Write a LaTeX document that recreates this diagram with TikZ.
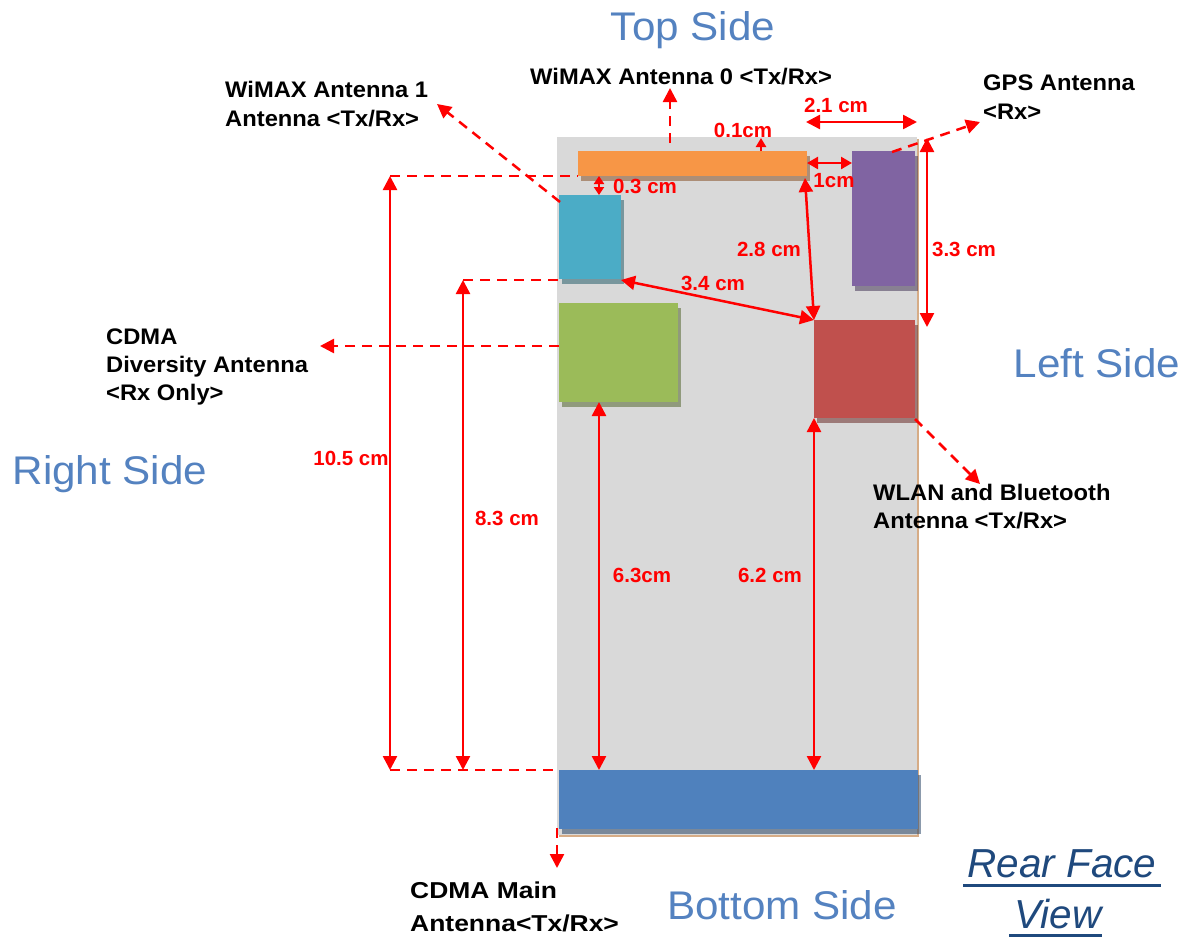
\documentclass[tikz,border=0pt]{standalone}
\usepackage{fontspec}
\setmainfont{Liberation Sans}
\newfontfamily\widefont{Liberation Sans}[FakeStretch=1.055]
\newfontfamily\widerfont{Liberation Sans}[FakeStretch=1.15]
\usetikzlibrary{arrows.meta,shadows}
\definecolor{board}{RGB}{217,217,217}
\definecolor{boardsh}{RGB}{214,172,134}
\definecolor{aorange}{RGB}{247,150,70}
\definecolor{acyan}{RGB}{75,172,198}
\definecolor{agreen}{RGB}{155,187,89}
\definecolor{apurple}{RGB}{128,100,162}
\definecolor{ared}{RGB}{192,80,77}
\definecolor{ablue}{RGB}{79,129,189}
\definecolor{sidecol}{RGB}{84,130,192}
\definecolor{rearcol}{RGB}{31,73,125}
\definecolor{dimred}{RGB}{255,0,0}
\tikzset{
  box/.style={draw=none, inner sep=0pt, outer sep=0pt, anchor=north west},
  ant/.style={box, fill=#1, drop shadow={shadow xshift=3pt, shadow yshift=-5pt, fill=#1!55!black, opacity=.55}},
  dimline/.style={dimred, line width=2.5pt},
  dim/.style={dimline, {Triangle[length=14pt,width=14pt]}-{Triangle[length=14pt,width=14pt]}},
  dimsmall/.style={dimline, {Triangle[length=8pt,width=10pt]}-{Triangle[length=8pt,width=10pt]}},
  dimmid/.style={dimline, {Triangle[length=11pt,width=12pt]}-{Triangle[length=11pt,width=12pt]}},
  dimup/.style={dimline, -{Triangle[length=9pt,width=10pt]}},
  dashln/.style={dimline, dash pattern=on 10pt off 7pt},
  dasharr/.style={dashln, -{Triangle[length=14pt,width=14pt]}},
  dimlbl/.style={text=dimred, inner sep=0pt, font=\bfseries\fontsize{20.5}{24}\selectfont},
  lbl/.style={inner sep=0pt, anchor=north west, align=left, font=\widefont\bfseries\fontsize{22.5}{28}\selectfont},
  side/.style={inner sep=0pt, anchor=base, text=sidecol, font=\widefont\fontsize{40}{48}\selectfont},
  rear/.style={inner sep=0pt, anchor=base, text=rearcol, font=\itshape\fontsize{40.5}{48}\selectfont},
}
\begin{document}
\begin{tikzpicture}[x=1pt,y=-1pt]
\useasboundingbox (0,0) rectangle (1198,937);
% board
\node[box, fill=boardsh, minimum width=360pt, minimum height=698pt] (boardshadow) at (559,139) {};
\node[box, fill=board, minimum width=360pt, minimum height=698pt] (board) at (557,137) {};
% antennas
\node[ant=aorange, minimum width=229pt, minimum height=25pt] (wimax0) at (578,151) {};
\node[ant=acyan, minimum width=62pt, minimum height=84pt] (wimax1) at (559,195) {};
\node[ant=agreen, minimum width=119pt, minimum height=99pt] (cdmadiv) at (559,303) {};
\node[ant=apurple, minimum width=63pt, minimum height=135pt] (gps) at (852,151) {};
\node[ant=ared, minimum width=101pt, minimum height=98pt] (wlan) at (814,320) {};
\node[ant=ablue, minimum width=359pt, minimum height=59pt] (cdmamain) at (559,770) {};
% side labels
\node[side] (topside) at (693,40) {Top Side};
\node[side] (leftside) at (1097,377) {Left Side};
\node[side] (rightside) at (110,484) {Right Side};
\node[side] (bottomside) at (782,919) {Bottom Side};
\node[rear] (rear1) at (1062,877) {Rear Face\ };
\node[rear] (rear2) at (1058,928) {View};
\draw[rearcol, line width=3pt] ([yshift=-8pt,xshift=-4pt]rear1.base west) -- ([yshift=-8pt,xshift=4pt]rear1.base east);
\draw[rearcol, line width=3pt] ([yshift=-7pt,xshift=-5pt]rear2.base west) -- ([yshift=-7pt]rear2.base east);
% antenna labels
\node[lbl, font=\widefont\bfseries\fontsize{22.5}{29}\selectfont] (l1) at (225,81) {WiMAX Antenna 1\\Antenna <Tx/Rx>};
\node[lbl] (l0) at (530,68) {WiMAX Antenna 0 <Tx/Rx>};
\node[lbl, font=\widefont\bfseries\fontsize{22.5}{29}\selectfont] (lgps) at (983,75) {GPS Antenna\\<Rx>};
\node[lbl] (ldiv) at (106,329) {CDMA\\Diversity Antenna\\<Rx Only>};
\node[lbl] (lwlan) at (873,484) {WLAN and Bluetooth\\Antenna <Tx/Rx>};
\node[lbl, font=\widerfont\bfseries\fontsize{23}{33}\selectfont] (lmain) at (410,882) {CDMA Main\\Antenna<Tx/Rx>};
% coordinates
\coordinate (a01s) at (761,151); \coordinate (a01e) at (761,138);
\coordinate (a21s) at (806,122); \coordinate (a21e) at (917,122);
\coordinate (a1s) at (807,163);  \coordinate (a1e) at (852,163);
\coordinate (a03s) at (599,176); \coordinate (a03e) at (599,195);
\coordinate (a28s) at (805,178); \coordinate (a28e) at (814,320);
\coordinate (a34s) at (621,280); \coordinate (a34e) at (814,320);
\coordinate (a33s) at (927,138); \coordinate (a33e) at (927,327);
\coordinate (a105s) at (390,176); \coordinate (a105e) at (390,770);
\coordinate (a83s) at (463,280); \coordinate (a83e) at (463,770);
\coordinate (a63s) at (599,402); \coordinate (a63e) at (599,770);
\coordinate (a62s) at (814,418); \coordinate (a62e) at (814,770);
\coordinate (e105t) at (578,176); \coordinate (e83t) at (559,280); \coordinate (ebot) at (559,770);
\coordinate (w0s) at (670,143); \coordinate (w0e) at (670,88);
\coordinate (w1s) at (560,202); \coordinate (w1e) at (437,104);
\coordinate (gs) at (892,152);  \coordinate (ge) at (980,122);
\coordinate (ds) at (559,346);  \coordinate (de) at (320,346);
\coordinate (ws) at (915,419);  \coordinate (we) at (980,484);
\coordinate (ms) at (557,828);  \coordinate (me) at (557,868);
% dashed extension lines
\draw[dashln] (a105s) -- (e105t);
\draw[dashln] (a83s) -- (e83t);
\draw[dashln] (a105e) -- (ebot);
% dashed pointer arrows
\draw[dasharr] (w0s) -- (w0e);
\draw[dasharr] (w1s) -- (w1e);
\draw[dasharr] (gs) -- (ge);
\draw[dasharr] (ds) -- (de);
\draw[dasharr] (ws) -- (we);
\draw[dasharr] (ms) -- (me);
% dimension arrows
\draw[dimup] (a01s) -- (a01e);
\draw[dim] (a21s) -- (a21e);
\draw[dimmid] (a1s) -- (a1e);
\draw[dimsmall] (a03s) -- (a03e);
\draw[dim] (a28s) -- (a28e);
\draw[dim] (a34s) -- (a34e);
\draw[dim] (a33s) -- (a33e);
\draw[dim] (a105s) -- (a105e);
\draw[dim] (a83s) -- (a83e);
\draw[dim] (a63s) -- (a63e);
\draw[dim] (a62s) -- (a62e);
% dimension labels
\node[dimlbl] (t01) at (743,130) {0.1cm};
\node[dimlbl] (t21) at (836,105) {2.1 cm};
\node[dimlbl] (t1) at (834,181) {1cm};
\node[dimlbl] (t03) at (645,186) {0.3 cm};
\node[dimlbl] (t28) at (769,249) {2.8 cm};
\node[dimlbl] (t34) at (713,283) {3.4 cm};
\node[dimlbl] (t33) at (964,249) {3.3 cm};
\node[dimlbl] (t105) at (351,458) {10.5 cm};
\node[dimlbl] (t83) at (507,518) {8.3 cm};
\node[dimlbl] (t63) at (642,575) {6.3cm};
\node[dimlbl] (t62) at (770,575) {6.2 cm};
\end{tikzpicture}
\end{document}
